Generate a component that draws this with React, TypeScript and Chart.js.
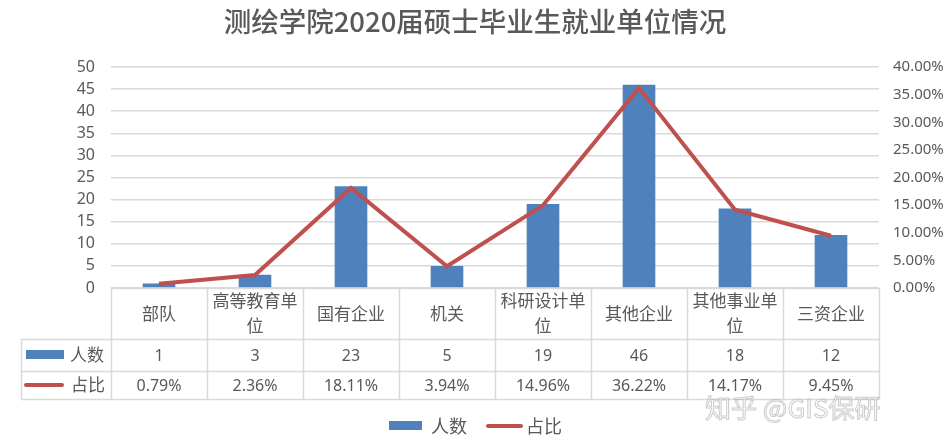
import React, { useEffect, useRef } from "react";
import { Chart, registerables } from "chart.js";

Chart.register(...registerables);

const chartTitle = "测绘学院2020届硕士毕业生就业单位情况";
const categories = ["部队", "高等教育单位", "国有企业", "机关", "科研设计单位", "其他企业", "其他事业单位", "三资企业"];
const counts = [1, 3, 23, 5, 19, 46, 18, 12];
const shares = [0.0079, 0.0236, 0.1811, 0.0394, 0.1496, 0.3622, 0.1417, 0.0945];
const seriesNames = ["人数", "占比"];
const watermark = "知乎 @GIS保研";

const BLUE = "#4F81BD";
const RED = "#C0504D";
const TEXT = "#595959";
const GRID = "#d9d9d9";
const CJK = '"Noto Sans CJK SC", "Noto Sans", sans-serif';
const NUM = '"Noto Sans", "Noto Sans CJK SC", sans-serif';

const pct = (v: number) => (v * 100).toFixed(2) + "%";

function wrapChars(ctx: CanvasRenderingContext2D, text: string, maxW: number): string[] {
  const lines: string[] = [];
  let cur = "";
  for (const ch of text) {
    const t = cur + ch;
    if (ctx.measureText(t).width > maxW && cur) {
      lines.push(cur);
      cur = ch;
    } else cur = t;
  }
  if (cur) lines.push(cur);
  return lines;
}

const tablePlugin = {
  id: "tablePlugin",
  afterDraw(chart: any) {
    const ctx: CanvasRenderingContext2D = chart.ctx;
    const { left, right, bottom } = chart.chartArea;
    const xs = chart.scales.x;
    const n = categories.length;
    const colW = (right - left) / n;
    const r0 = Math.round(bottom);
    const r1 = r0 + 51;
    const r2 = r0 + 83;
    const r3 = r0 + 111;
    const legL = 21;
    ctx.save();

    // title
    ctx.fillStyle = TEXT;
    ctx.font = `500 27.5px ${CJK}`;
    ctx.textAlign = "center";
    ctx.textBaseline = "middle";
    ctx.fillText(chartTitle, 475, 22);

    // table grid
    ctx.strokeStyle = GRID;
    ctx.lineWidth = 1.5;
    ctx.beginPath();
    ctx.moveTo(left, r0 + 0.5);
    ctx.lineTo(right, r0 + 0.5);
    for (const y of [r1, r2, r3]) {
      ctx.moveTo(legL, y + 0.5);
      ctx.lineTo(right, y + 0.5);
    }
    for (let i = 0; i <= n; i++) {
      const x = Math.round(left + i * colW) + 0.5;
      ctx.moveTo(x, r0);
      ctx.lineTo(x, r3);
    }
    ctx.moveTo(legL + 0.5, r1);
    ctx.lineTo(legL + 0.5, r3);
    ctx.stroke();

    // category labels
    ctx.fillStyle = TEXT;
    ctx.font = `17px ${CJK}`;
    ctx.textAlign = "center";
    ctx.textBaseline = "middle";
    const lh = 25;
    categories.forEach((c, i) => {
      const cx = xs.getPixelForValue(i);
      const lines = wrapChars(ctx, c, colW - 6);
      const cy = (r0 + r1) / 2;
      const start = cy - ((lines.length - 1) * lh) / 2;
      lines.forEach((ln, k) => ctx.fillText(ln, cx, start + k * lh));
    });

    // values
    ctx.font = `16px ${NUM}`;
    counts.forEach((v, i) => ctx.fillText(String(v), xs.getPixelForValue(i), (r1 + r2) / 2 + 1));
    shares.forEach((v, i) => ctx.fillText(pct(v), xs.getPixelForValue(i), (r2 + r3) / 2 + 1));

    // legend keys in table
    ctx.fillStyle = BLUE;
    ctx.fillRect(26, (r1 + r2) / 2 - 5, 38, 9);
    ctx.strokeStyle = RED;
    ctx.lineWidth = 4;
    ctx.lineCap = "round";
    ctx.beginPath();
    ctx.moveTo(26, (r2 + r3) / 2);
    ctx.lineTo(62, (r2 + r3) / 2);
    ctx.stroke();
    ctx.fillStyle = TEXT;
    ctx.font = `17px ${CJK}`;
    ctx.textAlign = "left";
    ctx.fillText(seriesNames[0], 70, (r1 + r2) / 2);
    ctx.fillText(seriesNames[1], 71, (r2 + r3) / 2);

    // bottom legend
    const ly = 426;
    ctx.fillStyle = BLUE;
    ctx.fillRect(389, ly - 5, 33, 9);
    ctx.beginPath();
    ctx.moveTo(488, ly);
    ctx.lineTo(521, ly);
    ctx.stroke();
    ctx.fillStyle = TEXT;
    ctx.font = `18px ${CJK}`;
    ctx.fillText(seriesNames[0], 431, ly);
    ctx.fillText(seriesNames[1], 526, ly);

    // watermark
    ctx.font = `26px ${CJK}`;
    ctx.textAlign = "left";
    ctx.fillStyle = "rgba(255,255,255,0.55)";
    ctx.fillText(watermark, 705, 408);
    ctx.strokeStyle = "rgba(160,160,160,0.55)";
    ctx.lineWidth = 1;
    ctx.strokeText(watermark, 705, 408);

    ctx.restore();
  },
};

export default function App() {
  const ref = useRef<HTMLCanvasElement | null>(null);
  useEffect(() => {
    document.body.style.margin = "0";
    const c = ref.current;
    if (!c) return;
    const chart = new Chart(c, {
      type: "bar",
      data: {
        labels: categories,
        datasets: [
          {
            type: "line",
            label: seriesNames[1],
            data: shares,
            yAxisID: "y1",
            borderColor: RED,
            backgroundColor: RED,
            borderWidth: 4,
            pointRadius: 0,
            tension: 0,
            order: 0,
          } as any,
          {
            type: "bar",
            label: seriesNames[0],
            data: counts,
            yAxisID: "y",
            backgroundColor: BLUE,
            categoryPercentage: 1,
            barPercentage: 0.34,
            order: 1,
          },
        ],
      },
      options: {
        responsive: false,
        animation: false,
        devicePixelRatio: 1,
        layout: { padding: { top: 67, bottom: 156, left: 0, right: 0 } },
        plugins: { legend: { display: false }, tooltip: { enabled: false }, title: { display: false } },
        scales: {
          x: { display: false, offset: true },
          y: {
            position: "left",
            min: 0,
            max: 50,
            ticks: { stepSize: 5, autoSkip: false, padding: 16, color: TEXT, font: { family: NUM, size: 16 } },
            grid: { color: GRID, lineWidth: 1.5, drawTicks: false },
            border: { display: false },
            afterFit: (s: any) => {
              s.width = 111;
            },
          },
          y1: {
            position: "right",
            min: 0,
            max: 0.4,
            ticks: { stepSize: 0.05, autoSkip: false, padding: 14, color: TEXT, font: { family: NUM, size: 15 }, callback: (v: any) => pct(Number(v)) },
            grid: { drawOnChartArea: false, drawTicks: false },
            border: { display: false },
            afterFit: (s: any) => {
              s.width = 71;
            },
          },
        },
      },
      plugins: [tablePlugin],
    });
    return () => chart.destroy();
  }, []);
  return (
    <div style={{ width: 950, height: 444, overflow: "hidden", background: "#fff" }}>
      <canvas ref={ref} width={950} height={444} style={{ display: "block", width: 950, height: 444 }} />
    </div>
  );
}
